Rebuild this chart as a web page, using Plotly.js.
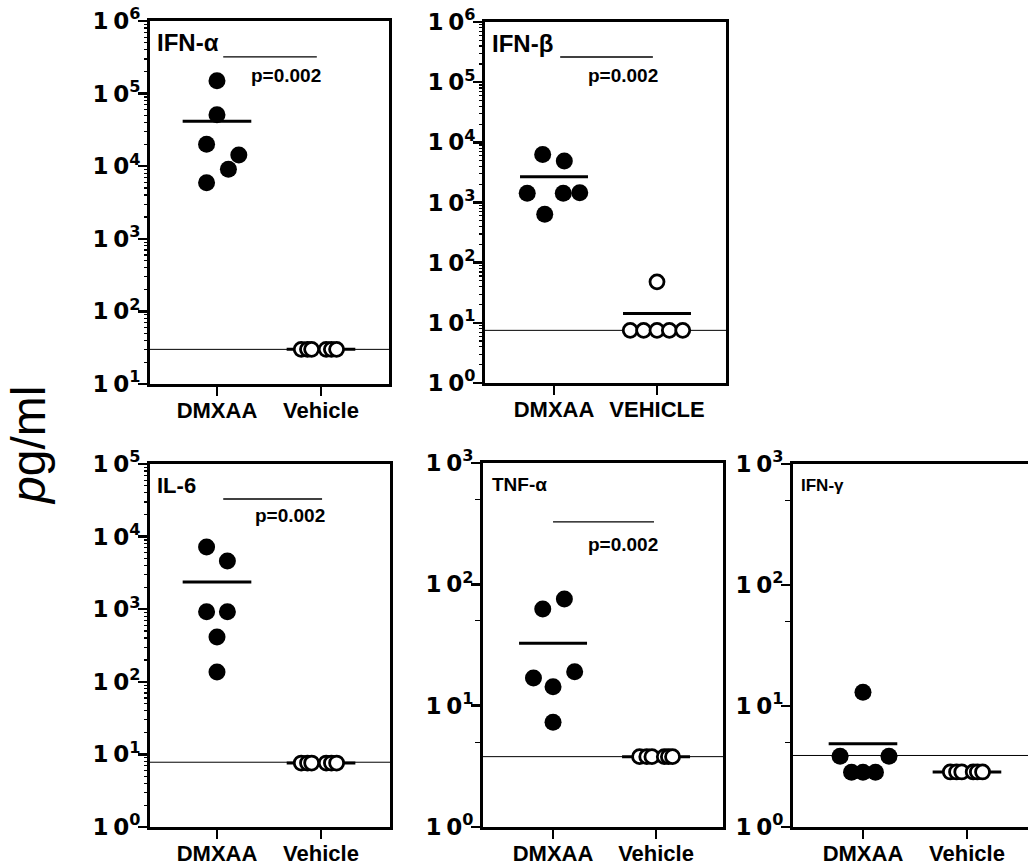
<!DOCTYPE html>
<html><head><meta charset="utf-8">
<script src="https://cdn.plot.ly/plotly-3.0.1.min.js"></script>
<style>body{margin:0;background:#fff}#chart{width:1028px;height:865px}</style>
</head><body><div id="chart"></div>
<script>
// ---------- data ----------
const groupsA = ['DMXAA', 'Vehicle'];
const groupsB = ['DMXAA', 'VEHICLE'];
const panelNames = ['IFN-\u03b1', 'IFN-\u03b2', 'IL-6', 'TNF-\u03b1', 'IFN-\u03b3'];
const pLabel = 'p=0.002';

// IFN-alpha
const ifnA_dmx = [150000, 51000, 20000, 14300, 9100, 5900];
const ifnA_dmx_jit = [0, 0, -0.10, 0.21, 0.11, -0.10];
const ifnA_veh = [30, 30, 30, 30, 30, 30];
const ifnA_veh_jit = [-0.19, -0.13, -0.09, 0.05, 0.10, 0.15];
const ifnA_lod = 30;
const ifnA_exp = [1, 2, 3, 4, 5, 6];

// IFN-beta
const ifnB_dmx = [6300, 4900, 1430, 1430, 1450, 640];
const ifnB_dmx_jit = [-0.11, 0.10, -0.26, 0.09, 0.25, -0.09];
const ifnB_veh = [48, 7.5, 7.5, 7.5, 7.5, 7.5];
const ifnB_veh_jit = [0, -0.26, -0.13, 0, 0.12, 0.25];
const ifnB_lod = 7.5;
const ifnB_exp = [0, 1, 2, 3, 4, 5, 6];

// IL-6
const il6_dmx = [7200, 4600, 920, 920, 414, 136];
const il6_dmx_jit = [-0.10, 0.10, -0.10, 0.10, 0, 0];
const il6_veh = [7.6, 7.6, 7.6, 7.6, 7.6, 7.6];
const il6_veh_jit = [-0.19, -0.13, -0.09, 0.05, 0.10, 0.15];
const il6_lod = 7.8;
const il6_exp = [0, 1, 2, 3, 4, 5];

// TNF-alpha
const tnf_dmx = [62.7, 75.8, 16.9, 14.3, 19, 7.3];
const tnf_dmx_jit = [-0.10, 0.11, -0.19, 0, 0.21, 0];
const tnf_veh = [3.8, 3.8, 3.8, 3.8, 3.8, 3.8];
const tnf_veh_jit = [-0.16, -0.09, -0.04, 0.08, 0.12, 0.16];
const tnf_lod = 3.8;
const tnf_exp = [0, 1, 2, 3];

// IFN-gamma
const ifnG_dmx = [13, 3.85, 3.85, 2.84, 2.84, 2.84];
const ifnG_dmx_jit = [0, -0.22, 0.25, -0.11, 0, 0.12];
const ifnG_veh = [2.85, 2.85, 2.85, 2.85, 2.85, 2.85];
const ifnG_veh_jit = [-0.16, -0.10, -0.05, 0.06, 0.10, 0.15];
const ifnG_lod = 3.9;
const ifnG_exp = [0, 1, 2, 3];

// ---------- layout geometry (pixels) ----------
const W = 1028, H = 865;
const panels = [
  {dmx: ifnA_dmx, dj: ifnA_dmx_jit, veh: ifnA_veh, vj: ifnA_veh_jit, lod: ifnA_lod, exp: ifnA_exp, groups: groupsA,
   px: [150, 389], py: [21, 384], xr: [-0.644, 1.654], sig: {x0: 0.06, x1: 0.96, y: 0.901, tx: 0.665, ty: 0.851},
   lab: {x: 0.02, y: 0.94, size: 24}, minor: [2,3,4,5,6,7,8,9], mirrorY: true},
  {dmx: ifnB_dmx, dj: ifnB_dmx_jit, veh: ifnB_veh, vj: ifnB_veh_jit, lod: ifnB_lod, exp: ifnB_exp, groups: groupsB,
   px: [485, 726], py: [22, 383], xr: [-0.67, 1.67], sig: {x0: 0.06, x1: 0.96, y: 0.903, tx: 0.67, ty: 0.853},
   lab: {x: 0.022, y: 0.94, size: 24}, minor: [2,3,4,5,6,7,8,9], mirrorY: true},
  {dmx: il6_dmx, dj: il6_dmx_jit, veh: il6_veh, vj: il6_veh_jit, lod: il6_lod, exp: il6_exp, groups: groupsA,
   px: [150, 390], py: [464, 827], xr: [-0.644, 1.663], sig: {x0: 0.06, x1: 1.01, y: 0.9036, tx: 0.70, ty: 0.857},
   lab: {x: 0.02, y: 0.94, size: 22}, minor: [2,3,4,5,6,7,8,9], mirrorY: true},
  {dmx: tnf_dmx, dj: tnf_dmx_jit, veh: tnf_veh, vj: tnf_veh_jit, lod: tnf_lod, exp: tnf_exp, groups: groupsA,
   px: [483, 723], py: [463, 827], xr: [-0.68, 1.65], sig: {x0: 0.0, x1: 0.98, y: 0.838, tx: 0.68, ty: 0.777},
   lab: {x: 0.03, y: 0.94, size: 19}, minor: [5], mirrorY: true},
  {dmx: ifnG_dmx, dj: ifnG_dmx_jit, veh: ifnG_veh, vj: ifnG_veh_jit, lod: ifnG_lod, exp: ifnG_exp, groups: groupsA,
   px: [793, 1028], py: [464, 827], xr: [-0.673, 1.587], sig: null,
   lab: {x: 0.025, y: 0.94, size: 17}, minor: [5], mirrorY: false}
];

const FONT = 'Liberation Sans, Arial, Helvetica, sans-serif';
const TFONT = 'DejaVu Sans, Liberation Sans, Arial, sans-serif';
const mean = a => a.reduce((s, v) => s + v, 0) / a.length;
const traces = [];
const layout = {
  width: W, height: H, margin: {l: 0, r: 0, t: 0, b: 0},
  paper_bgcolor: '#fff', plot_bgcolor: '#fff', showlegend: false,
  shapes: [], annotations: []
};

panels.forEach((p, i) => {
  const n = i === 0 ? '' : String(i + 1);
  const xa = 'x' + n, ya = 'y' + n;
  const lo = p.exp[0], hi = p.exp[p.exp.length - 1];
  const minorVals = [];
  for (let e = lo; e < hi; e++) p.minor.forEach(m => minorVals.push(m * Math.pow(10, e)));

  layout['xaxis' + n] = {
    domain: [p.px[0] / W, p.px[1] / W], range: p.xr, anchor: ya,
    tickvals: [0, 1], ticktext: p.groups, ticks: 'outside', ticklen: 9, tickwidth: 2.5, tickcolor: '#000',
    showline: true, linewidth: 3, linecolor: '#000', mirror: true, zeroline: false, showgrid: false,
    tickfont: {family: FONT, size: 22, color: '#000', weight: 700}, ticklabelstandoff: -4, fixedrange: true
  };
  layout['yaxis' + n] = {
    domain: [1 - p.py[1] / H, 1 - p.py[0] / H], type: 'log', range: [lo, hi], anchor: xa,
    tickvals: p.exp.map(e => Math.pow(10, e)),
    ticktext: p.exp.map(e => '1\u20090<sup>' + e + '</sup>'),
    ticks: 'outside', ticklen: 9, tickwidth: 2.5, tickcolor: '#000',
    minor: {tickvals: minorVals, ticks: 'outside', ticklen: p.minor.length === 1 ? 5 : 3, tickwidth: 1.2, tickcolor: '#000', showgrid: false},
    showline: true, linewidth: 3, linecolor: '#000', mirror: p.mirrorY, zeroline: false, showgrid: false,
    tickfont: {family: TFONT, size: 23, color: '#000', weight: 700}, ticklabelstandoff: -7, fixedrange: true
  };

  // detection limit line across the panel
  traces.push({x: p.xr, y: [p.lod, p.lod], xaxis: xa, yaxis: ya, mode: 'lines',
    line: {color: '#000', width: 1}, hoverinfo: 'skip', cliponaxis: true});
  // mean lines
  [p.dmx, p.veh].forEach((arr, g) => {
    const m = mean(arr);
    traces.push({x: [g - 0.33, g + 0.33], y: [m, m], xaxis: xa, yaxis: ya, mode: 'lines',
      line: {color: '#000', width: 3}, hoverinfo: 'skip'});
  });
  // points
  traces.push({x: p.dj.map(j => 0 + j), y: p.dmx, xaxis: xa, yaxis: ya, mode: 'markers',
    marker: {size: 17, color: '#000', line: {width: 0}}, cliponaxis: false});
  traces.push({x: p.vj.map(j => 1 + j), y: p.veh, xaxis: xa, yaxis: ya, mode: 'markers',
    marker: {size: 14, color: '#fff', line: {width: 2.8, color: '#000'}}, cliponaxis: false});

  // significance bar and text
  if (p.sig) {
    layout.shapes.push({type: 'line', xref: xa, yref: ya + ' domain', x0: p.sig.x0, x1: p.sig.x1,
      y0: p.sig.y, y1: p.sig.y, line: {color: '#000', width: 1.3}});
    layout.annotations.push({xref: xa, yref: ya + ' domain', x: p.sig.tx, y: p.sig.ty, text: pLabel,
      showarrow: false, xanchor: 'center', yanchor: 'middle',
      font: {family: FONT, size: 19, color: '#000', weight: 700}});
  }
  // panel label
  layout.annotations.push({xref: xa + ' domain', yref: ya + ' domain', x: p.lab.x, y: p.lab.y,
    text: panelNames[i], showarrow: false, xanchor: 'left', yanchor: 'middle',
    font: {family: FONT, size: p.lab.size, color: '#000', weight: 700}});
});

// shared y-axis title
layout.annotations.push({xref: 'paper', yref: 'paper', x: 29 / W, y: 1 - 446 / H, text: '<i>p</i>g/ml',
  textangle: -90, showarrow: false, xanchor: 'center', yanchor: 'middle', borderpad: 0,
  font: {family: FONT, size: 48, color: '#000'}});

Plotly.newPlot('chart', traces, layout, {displayModeBar: false, staticPlot: true});
</script>
</body></html>
